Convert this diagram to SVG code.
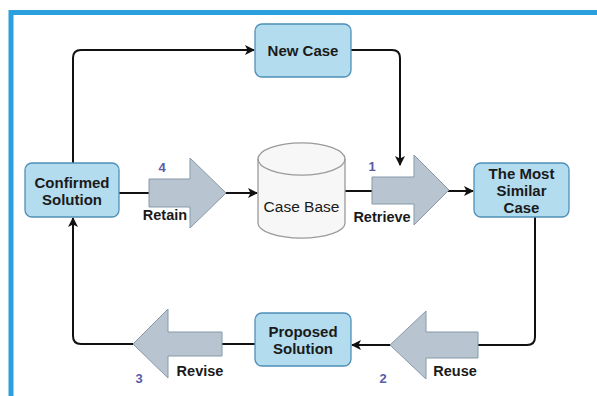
<svg xmlns="http://www.w3.org/2000/svg" width="597" height="396" viewBox="0 0 597 396">
<defs>
<style>
.node{fill:#b3dcef;stroke:#4f8fb8;stroke-width:1.3}
.nt{font-family:"Liberation Sans",Arial,sans-serif;font-weight:bold;font-size:15px;fill:#1a1a1a;text-anchor:middle}
.lbl{font-family:"Liberation Sans",Arial,sans-serif;font-weight:bold;font-size:14.5px;fill:#1a1a1a;text-anchor:middle}
.num{font-family:"Liberation Sans",Arial,sans-serif;font-weight:bold;font-size:13px;fill:#5a5aa6;text-anchor:middle}
.edge{fill:none;stroke:#111;stroke-width:2}
.blk{fill:#b8c5d0;stroke:#8799a8;stroke-width:1}
</style>
<marker id="ah" viewBox="0 0 10 10" refX="9" refY="5" markerWidth="10" markerHeight="10" markerUnits="userSpaceOnUse" orient="auto">
<path d="M0,0 L10,5 L0,10 L2.5,5 Z" fill="#111"/>
</marker>
</defs>
<rect x="0" y="0" width="597" height="396" fill="#ffffff"/>
<path d="M11,396 L11,12.5 L597,12.5" fill="none" stroke="#2c9fdf" stroke-width="5"/>

<g id="connectors">
<path class="edge" d="M73,163 L73,58 Q73,50 81,50 L254,50" marker-end="url(#ah)"/>
<path class="edge" d="M351,50 L392,50 Q400,50 400,58 L400,165" marker-end="url(#ah)"/>
<path class="edge" d="M119,193 L257,193" marker-end="url(#ah)"/>
<path class="edge" d="M345,191 L473,191" marker-end="url(#ah)"/>
<path class="edge" d="M535,217 L535,337 Q535,345 527,345 L352,345" marker-end="url(#ah)"/>
<path class="edge" d="M255,344 L81,344 Q73,344 73,336 L73,218" marker-end="url(#ah)"/>
</g>

<g id="retain">
<path class="blk" d="M149,179 L190,179 L190,158 L226,193 L190,228 L190,207 L149,207 Z"/>
<text class="num" x="162" y="172">4</text>
<text class="lbl" x="165" y="220">Retain</text>
</g>
<g id="retrieve">
<path class="blk" d="M372,177 L414,177 L414,155 L449,190 L414,225 L414,204 L372,204 Z"/>
<text class="num" x="372" y="171">1</text>
<text class="lbl" x="382" y="222">Retrieve</text>
</g>
<g id="reuse">
<path class="blk" d="M478,332 L426,332 L426,311 L390,345 L426,379 L426,358 L478,358 Z"/>
<text class="num" x="383" y="383">2</text>
<text class="lbl" x="455" y="376">Reuse</text>
</g>
<g id="revise">
<path class="blk" d="M222,332 L168,332 L168,309 L133,344 L168,378 L168,356 L222,356 Z"/>
<text class="num" x="139" y="383">3</text>
<text class="lbl" x="200" y="376">Revise</text>
</g>

<g id="new-case">
<rect class="node" x="255" y="24" width="96" height="53" rx="7"/>
<text class="nt" x="303" y="56">New Case</text>
</g>
<g id="confirmed-solution">
<rect class="node" x="25" y="163" width="94" height="54" rx="7"/>
<text class="nt" x="72" y="188">Confirmed</text>
<text class="nt" x="72" y="205">Solution</text>
</g>
<g id="most-similar-case">
<rect class="node" x="474" y="163" width="95" height="54" rx="7"/>
<text class="nt" x="521.5" y="179">The Most</text>
<text class="nt" x="521.5" y="196">Similar</text>
<text class="nt" x="521.5" y="213">Case</text>
</g>
<g id="proposed-solution">
<rect class="node" x="255" y="313" width="96" height="53" rx="7"/>
<text class="nt" x="303" y="337">Proposed</text>
<text class="nt" x="303" y="354">Solution</text>
</g>
<g id="case-base">
<path d="M258,159 L258,223 A43,15 0 0 0 345,223 L345,159 A43,16 0 0 0 258,159 Z" fill="#f7f7f7" stroke="#9a9a9a" stroke-width="1.3"/>
<path d="M258,159 A43,16 0 0 0 345,159" fill="none" stroke="#9a9a9a" stroke-width="1.3"/>
<text x="301.5" y="212" font-family="Liberation Sans,Arial,sans-serif" font-size="15.5px" fill="#1a1a1a" text-anchor="middle">Case Base</text>
</g>
</svg>
